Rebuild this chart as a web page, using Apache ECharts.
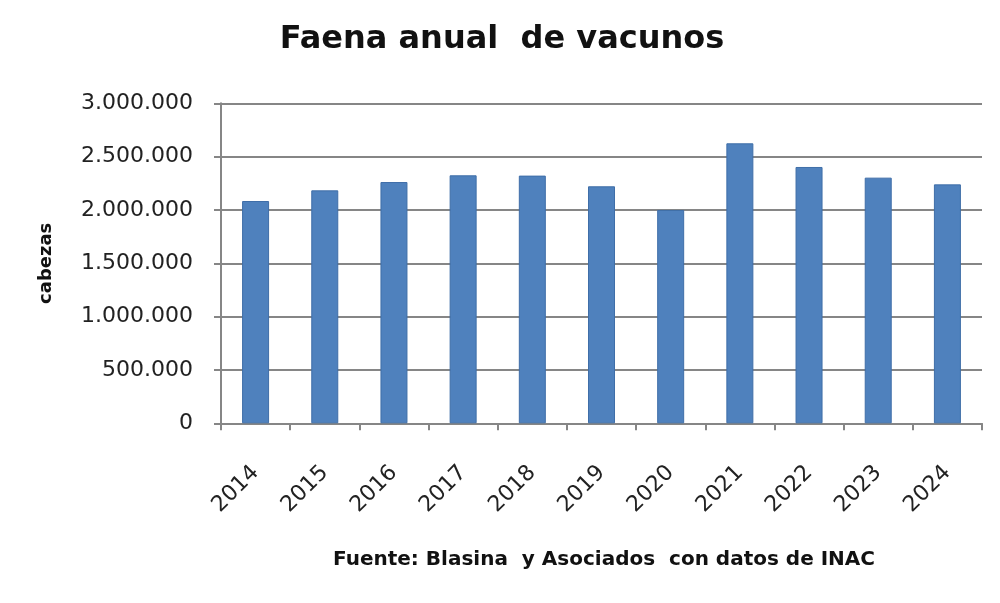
<!DOCTYPE html>
<html><head><meta charset="utf-8">
<script src="https://cdn.jsdelivr.net/npm/echarts@6/dist/echarts.min.js"></script>
<style>html,body{margin:0;padding:0;background:#fff}#c{width:1000px;height:603px}</style>
</head><body><div id="c"></div>
<script>
const categories = ['2014','2015','2016','2017','2018','2019','2020','2021','2022','2023','2024'];
const faena = [2084000, 2184000, 2262000, 2325000, 2322000, 2222000, 2000000, 2625000, 2403000, 2303000, 2240000];
const titleText = 'Faena anual  de vacunos';
const yAxisName = 'cabezas';
const sourceText = 'Fuente: Blasina  y Asociados  con datos de INAC';

function fmt(v){ return String(Math.round(v)).replace(/\B(?=(\d{3})+(?!\d))/g, '.'); }

const F = 'DejaVu Sans';
const chart = echarts.init(document.getElementById('c'));
chart.setOption({
  animation: false,
  backgroundColor: '#fff',
  textStyle: { fontFamily: F },
  title: [
    { text: titleText, left: 497, top: 19, textAlign: 'center',
      textStyle: { fontFamily: F, fontWeight: 'bold', fontSize: 32, color: '#111' } },
    { text: sourceText, left: 599, top: 545, textAlign: 'center',
      textStyle: { fontFamily: F, fontWeight: 'bold', fontSize: 20, color: '#111' } }
  ],
  grid: { left: 221, right: 18, top: 103.3, bottom: 603 - 423.3, containLabel: false },
  xAxis: {
    type: 'category', data: categories,
    axisLine: { lineStyle: { color: '#868686', width: 2 } },
    axisTick: { show: true, alignWithLabel: false, length: 7, lineStyle: { color: '#868686', width: 2 } },
    axisLabel: { rotate: 45, fontSize: 22, color: '#222', margin: 46, fontFamily: F }
  },
  yAxis: {
    type: 'value', min: 0, max: 3000000, interval: 500000,
    name: yAxisName, nameLocation: 'middle', nameGap: 166, nameRotate: 90,
    nameTextStyle: { fontWeight: 'bold', fontSize: 18, color: '#111', fontFamily: F, padding: [0, 0, 0, 0] },
    axisLine: { show: true, lineStyle: { color: '#868686', width: 2 } },
    axisTick: { show: true, length: 7, inside: false, lineStyle: { color: '#868686', width: 2 } },
    splitLine: { show: true, lineStyle: { color: '#868686', width: 2 } },
    axisLabel: { fontSize: 22, color: '#222', margin: 28, fontFamily: F, formatter: fmt }
  },
  series: [{
    type: 'bar', data: faena, barWidth: 27,
    itemStyle: { color: '#4f81bd', borderColor: '#3f6ea8', borderWidth: 1 }
  }]
});
</script></body></html>
